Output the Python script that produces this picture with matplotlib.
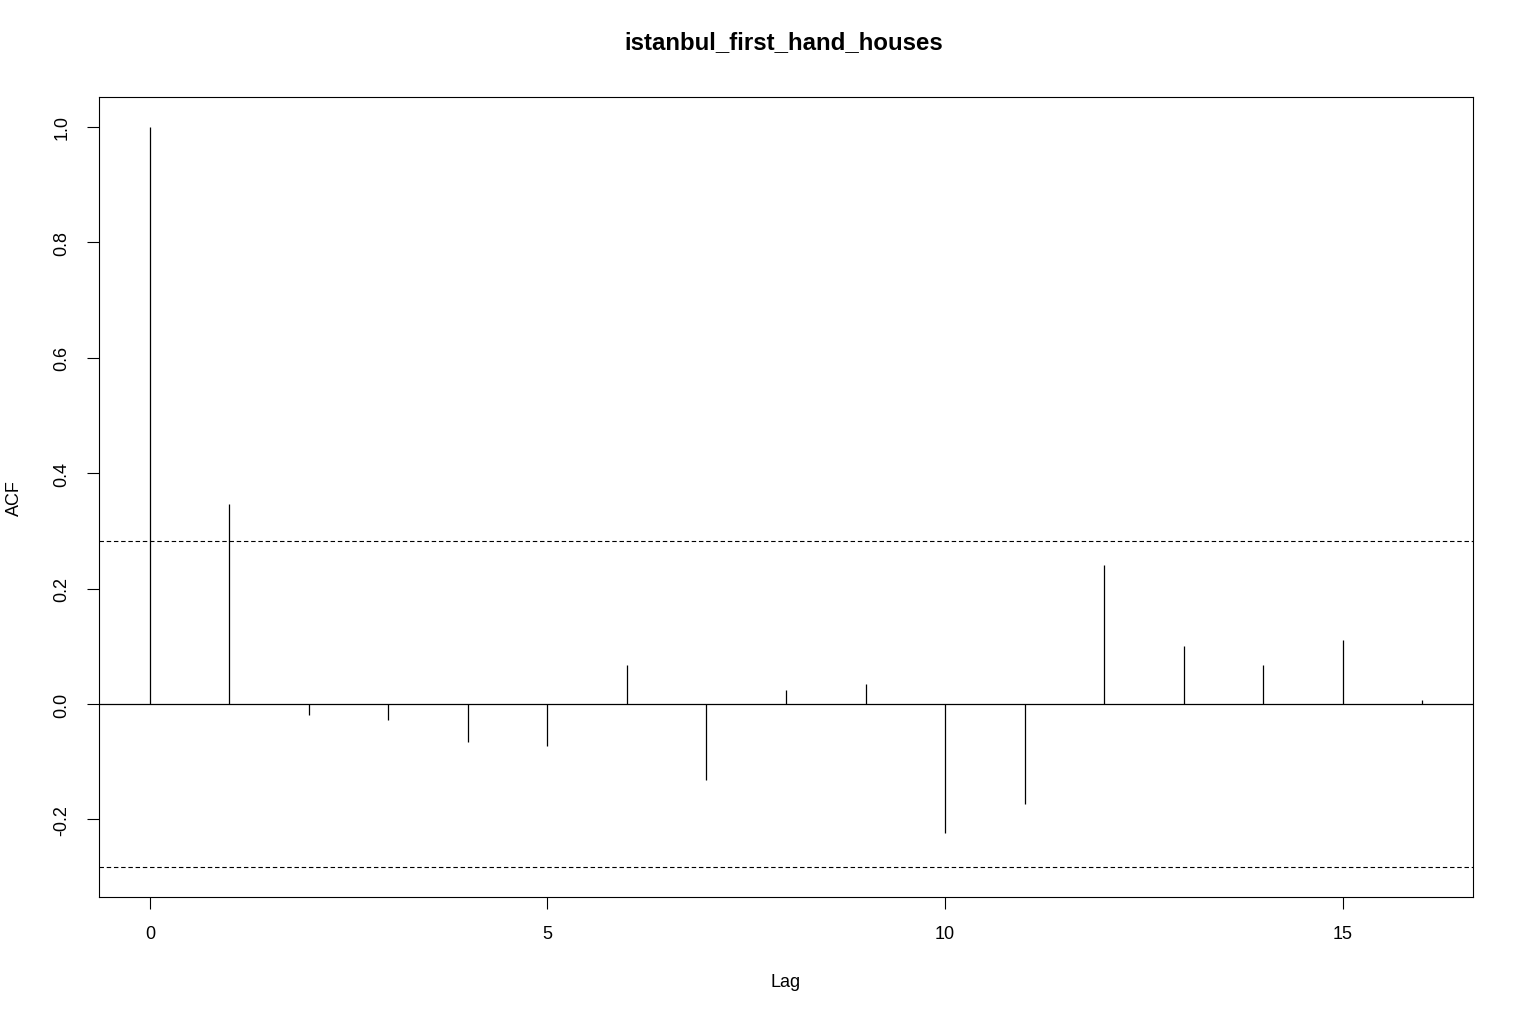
import matplotlib
matplotlib.use("Agg")
import matplotlib.pyplot as plt
import numpy as np

lags = list(range(17))
acf_values = [1.0, 0.347, -0.019, -0.028, -0.066, -0.073, 0.068, -0.132, 0.024,
              0.035, -0.224, -0.174, 0.240, 0.101, 0.068, 0.111, 0.007]
conf_limit = 0.283
x_ticks = [0, 5, 10, 15]
y_ticks = [-0.2, 0.0, 0.2, 0.4, 0.6, 0.8, 1.0]
title = "istanbul_first_hand_houses"

plt.rcParams['font.family'] = ['Liberation Sans', 'DejaVu Sans']

fig = plt.figure(figsize=(15.24, 10.2), dpi=100)
ax = fig.add_axes([99/1524, 1-898/1020, (1473-99)/1524, (898-98)/1020])

ax.vlines(lags, 0, acf_values, color='black', linewidth=0.9)
ax.axhline(0, color='black', linewidth=0.9)
ax.axhline(conf_limit, color='black', linewidth=0.8, linestyle=(0, (4, 2.5)))
ax.axhline(-conf_limit, color='black', linewidth=0.8, linestyle=(0, (4, 2.5)))

xr = max(lags) - min(lags)
ax.set_xlim(min(lags) - 0.04*xr, max(lags) + 0.04*xr)
ymin = min(min(acf_values), -conf_limit)
ymax = max(max(acf_values), conf_limit)
yr = ymax - ymin
ax.set_ylim(ymin - 0.04*yr, ymax + 0.04*yr)

ax.set_xticks(x_ticks)
ax.set_xticklabels([str(t) for t in x_ticks], fontsize=13)
ax.set_yticks(y_ticks)
ax.set_yticklabels([f"{t:.1f}" for t in y_ticks], fontsize=13, rotation=90, va='center')
ax.tick_params(direction='out', length=8.5, width=0.8, pad=12)
for s in ax.spines.values():
    s.set_linewidth(0.8)

ax.set_xlabel("Lag", fontsize=13, labelpad=22)
ax.set_ylabel("ACF", fontsize=13, labelpad=22)
fig.text(784/1524, 1-43/1020, title, fontsize=17.3, fontweight='bold', ha='center', va='center')

fig.savefig("out.png", dpi=100)
